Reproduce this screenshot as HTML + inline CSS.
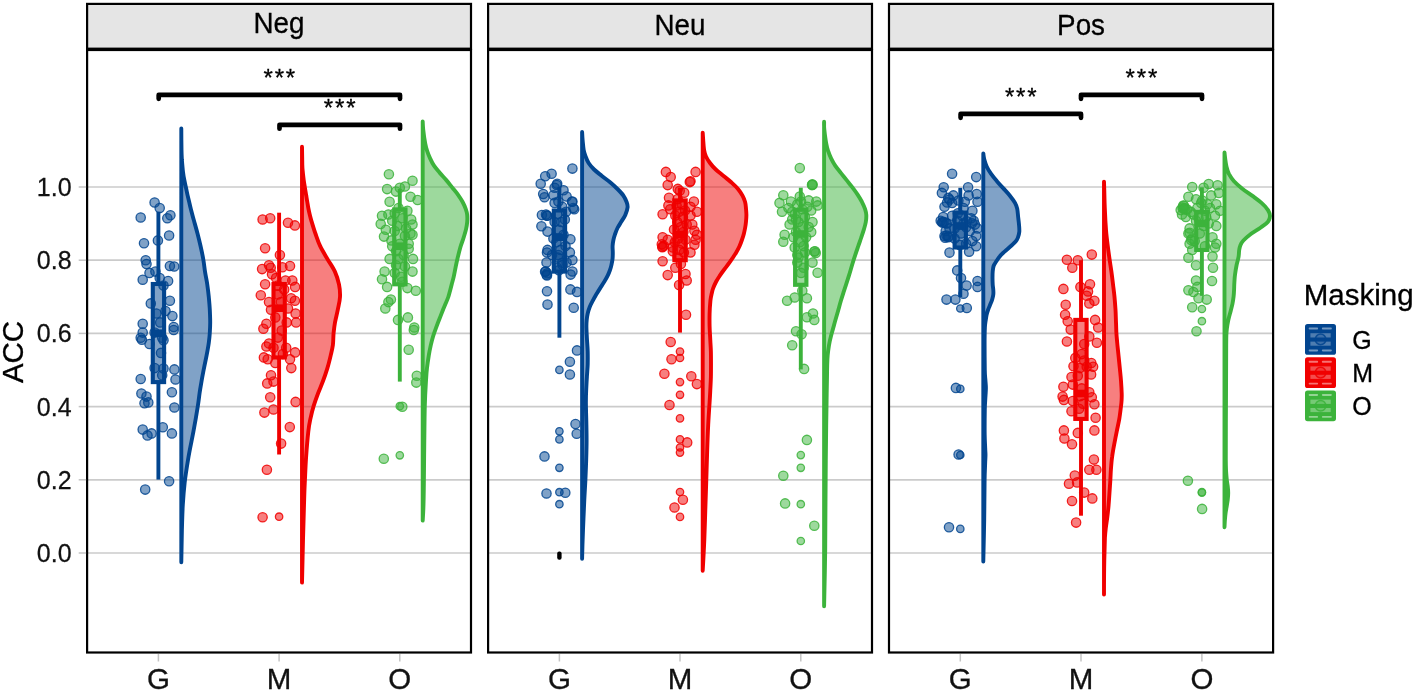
<!DOCTYPE html>
<html lang="en"><head><meta charset="utf-8"><title>ACC by Masking</title>
<style>html,body{margin:0;padding:0;background:#fff}body{width:1417px;height:691px;overflow:hidden}svg{display:block}</style>
</head><body>
<svg width="1417" height="691" viewBox="0 0 1417 691" font-family='"Liberation Sans", Arial, Helvetica, sans-serif'>
<rect width="1417" height="691" fill="#fff"/>
<g>
<line x1="87.1" x2="471" y1="553" y2="553" stroke="#cbcbcb" stroke-width="1.7"/>
<line x1="87.1" x2="471" y1="479.8" y2="479.8" stroke="#cbcbcb" stroke-width="1.7"/>
<line x1="87.1" x2="471" y1="406.6" y2="406.6" stroke="#cbcbcb" stroke-width="1.7"/>
<line x1="87.1" x2="471" y1="333.4" y2="333.4" stroke="#cbcbcb" stroke-width="1.7"/>
<line x1="87.1" x2="471" y1="260.2" y2="260.2" stroke="#cbcbcb" stroke-width="1.7"/>
<line x1="87.1" x2="471" y1="187" y2="187" stroke="#cbcbcb" stroke-width="1.7"/>
</g>
<g>
<line x1="488.1" x2="872" y1="553" y2="553" stroke="#cbcbcb" stroke-width="1.7"/>
<line x1="488.1" x2="872" y1="479.8" y2="479.8" stroke="#cbcbcb" stroke-width="1.7"/>
<line x1="488.1" x2="872" y1="406.6" y2="406.6" stroke="#cbcbcb" stroke-width="1.7"/>
<line x1="488.1" x2="872" y1="333.4" y2="333.4" stroke="#cbcbcb" stroke-width="1.7"/>
<line x1="488.1" x2="872" y1="260.2" y2="260.2" stroke="#cbcbcb" stroke-width="1.7"/>
<line x1="488.1" x2="872" y1="187" y2="187" stroke="#cbcbcb" stroke-width="1.7"/>
</g>
<g>
<line x1="889" x2="1273.1" y1="553" y2="553" stroke="#cbcbcb" stroke-width="1.7"/>
<line x1="889" x2="1273.1" y1="479.8" y2="479.8" stroke="#cbcbcb" stroke-width="1.7"/>
<line x1="889" x2="1273.1" y1="406.6" y2="406.6" stroke="#cbcbcb" stroke-width="1.7"/>
<line x1="889" x2="1273.1" y1="333.4" y2="333.4" stroke="#cbcbcb" stroke-width="1.7"/>
<line x1="889" x2="1273.1" y1="260.2" y2="260.2" stroke="#cbcbcb" stroke-width="1.7"/>
<line x1="889" x2="1273.1" y1="187" y2="187" stroke="#cbcbcb" stroke-width="1.7"/>
</g>
<g fill="#02458F" stroke="#02458F">
<g fill-opacity="0.5" stroke-opacity="0.85" stroke-width="1.3">
<circle cx="154.6" cy="202.5" r="4.65"/>
<circle cx="159.7" cy="208.1" r="4.65"/>
<circle cx="140.7" cy="217.5" r="4.65"/>
<circle cx="170.4" cy="215.2" r="4.65"/>
<circle cx="167.3" cy="218.3" r="4.65"/>
<circle cx="169.1" cy="235.5" r="4.65"/>
<circle cx="157.9" cy="240.4" r="4.65"/>
<circle cx="144" cy="243.2" r="4.65"/>
<circle cx="145.7" cy="260.2" r="4.65"/>
<circle cx="146.5" cy="264" r="4.65"/>
<circle cx="169.9" cy="266" r="4.65"/>
<circle cx="174.2" cy="266.5" r="4.65"/>
<circle cx="149.5" cy="272.9" r="4.65"/>
<circle cx="155.4" cy="271.6" r="4.65"/>
<circle cx="159.7" cy="278" r="4.65"/>
<circle cx="142.7" cy="279.8" r="4.65"/>
<circle cx="168.1" cy="281" r="4.65"/>
<circle cx="163.5" cy="285.6" r="4.65"/>
<circle cx="150.8" cy="303.4" r="4.65"/>
<circle cx="169.9" cy="300.8" r="4.65"/>
<circle cx="165.5" cy="311" r="4.65"/>
<circle cx="156.4" cy="313.5" r="4.65"/>
<circle cx="172.4" cy="316.1" r="4.65"/>
<circle cx="142.7" cy="323.7" r="4.65"/>
<circle cx="173.7" cy="327" r="4.65"/>
<circle cx="160.2" cy="322.4" r="4.65"/>
<circle cx="142.7" cy="332.6" r="4.65"/>
<circle cx="140.7" cy="337.7" r="4.65"/>
<circle cx="154.6" cy="332.6" r="4.65"/>
<circle cx="162.2" cy="337.7" r="4.65"/>
<circle cx="141.9" cy="339.7" r="4.65"/>
<circle cx="149.5" cy="344" r="4.65"/>
<circle cx="163.5" cy="340.2" r="4.65"/>
<circle cx="161" cy="352.9" r="4.65"/>
<circle cx="173.7" cy="330" r="4.65"/>
<circle cx="154.6" cy="368.1" r="4.65"/>
<circle cx="163.5" cy="368.6" r="4.65"/>
<circle cx="174.4" cy="369.4" r="4.65"/>
<circle cx="162.2" cy="375.2" r="4.65"/>
<circle cx="140.7" cy="379" r="4.65"/>
<circle cx="175.5" cy="379.5" r="4.65"/>
<circle cx="171.9" cy="392.2" r="4.65"/>
<circle cx="141.4" cy="393.5" r="4.65"/>
<circle cx="146.5" cy="396.6" r="4.65"/>
<circle cx="144.5" cy="403.2" r="4.65"/>
<circle cx="148.3" cy="402.4" r="4.65"/>
<circle cx="174.4" cy="407.5" r="4.65"/>
<circle cx="142.7" cy="429.6" r="4.65"/>
<circle cx="162.8" cy="427.3" r="4.65"/>
<circle cx="151.6" cy="433.4" r="4.65"/>
<circle cx="147.5" cy="435.4" r="4.65"/>
<circle cx="171.9" cy="433.4" r="4.65"/>
<circle cx="169.1" cy="481.2" r="4.65"/>
<circle cx="145.2" cy="489.6" r="4.65"/>
</g>
<g stroke-width="3.9" fill-opacity="0.5">
<line x1="158.4" x2="158.4" y1="211.7" y2="284"/>
<line x1="158.4" x2="158.4" y1="382.1" y2="479.6"/>
<rect x="152.8" y="284" width="11.3" height="98.1" stroke-width="4.1"/>
<line x1="152.8" x2="164.1" y1="333.2" y2="333.2" stroke-width="7.6"/>
</g>
<path d="M181.3 562.2L181.3 128.5C181.3 132.1 181.4 144.8 181.5 150C181.6 155.2 181.7 156.3 181.9 160C182.2 163.7 182.6 168.7 183 172C183.4 175.3 183.8 177.5 184.3 180C184.8 182.5 185.2 184.4 185.8 187C186.4 189.6 187 192.9 187.6 195.4C188.2 197.9 188.7 199.9 189.2 202C189.7 204.1 189.8 204.9 190.6 208C191.4 211.1 192.8 216.6 194 220.8C195.2 225.1 196.4 229.3 197.5 233.5C198.6 237.7 199.6 241.8 200.6 246.2C201.6 250.6 202.7 255.8 203.4 260C204.1 264.2 204.4 267.6 205 271.6C205.6 275.6 206.6 279.8 207.2 284C207.8 288.2 208.4 292.7 208.8 297C209.2 301.3 209.6 305.5 209.8 309.7C210 313.9 210.2 318.5 210.2 322.4C210.2 326.3 210 329.6 209.8 333C209.6 336.4 209.3 339 208.8 342.7C208.3 346.4 207.4 351.2 206.6 355.4C205.8 359.6 204.8 363.9 204 368.1C203.2 372.3 202.3 376.7 201.6 380.8C200.9 384.9 200.2 388.8 199.6 393C199 397.2 198.8 399.8 197.8 406.2C196.8 412.6 195 423.1 193.4 431.6C191.8 440.1 189.9 448.5 188.5 457C187.1 465.5 185.6 474.4 184.7 482.4C183.8 490.4 183.3 497.1 182.8 505C182.3 512.9 182.2 520.5 181.9 530C181.7 539.5 181.4 556.8 181.3 562.2Z" fill-opacity="0.5" stroke-width="3.9" stroke-linejoin="round"/>
</g>
<g fill="#F00000" stroke="#F00000">
<g fill-opacity="0.5" stroke-opacity="0.85" stroke-width="1.3">
<circle cx="262.6" cy="219.5" r="4.65"/>
<circle cx="270.2" cy="218.3" r="4.65"/>
<circle cx="288" cy="222.8" r="4.65"/>
<circle cx="294.9" cy="225.4" r="4.65"/>
<circle cx="265.1" cy="248.3" r="4.65"/>
<circle cx="279.9" cy="255.1" r="4.65"/>
<circle cx="269" cy="265.3" r="4.65"/>
<circle cx="262.1" cy="269.1" r="4.65"/>
<circle cx="270.7" cy="267.8" r="4.65"/>
<circle cx="282.4" cy="267.3" r="4.65"/>
<circle cx="290" cy="266" r="4.65"/>
<circle cx="272" cy="274.2" r="4.65"/>
<circle cx="276.1" cy="278" r="4.65"/>
<circle cx="285.5" cy="280.5" r="4.65"/>
<circle cx="292.3" cy="280.5" r="4.65"/>
<circle cx="295.1" cy="286.9" r="4.65"/>
<circle cx="265.1" cy="284.3" r="4.65"/>
<circle cx="260.8" cy="295.3" r="4.65"/>
<circle cx="269" cy="302.1" r="4.65"/>
<circle cx="277.8" cy="294.5" r="4.65"/>
<circle cx="291.1" cy="298.3" r="4.65"/>
<circle cx="294.9" cy="300.8" r="4.65"/>
<circle cx="271" cy="309.7" r="4.65"/>
<circle cx="288" cy="308.5" r="4.65"/>
<circle cx="295.6" cy="313.5" r="4.65"/>
<circle cx="266.4" cy="323.7" r="4.65"/>
<circle cx="296.1" cy="322.4" r="4.65"/>
<circle cx="263.4" cy="328.8" r="4.65"/>
<circle cx="281.7" cy="330.6" r="4.65"/>
<circle cx="269" cy="343.5" r="4.65"/>
<circle cx="277.8" cy="285.6" r="4.65"/>
<circle cx="280.9" cy="302.1" r="4.65"/>
<circle cx="284.2" cy="289.4" r="4.65"/>
<circle cx="275.3" cy="317.4" r="4.65"/>
<circle cx="286.7" cy="322.4" r="4.65"/>
<circle cx="266.4" cy="346.5" r="4.65"/>
<circle cx="273.5" cy="347.8" r="4.65"/>
<circle cx="286.2" cy="347.8" r="4.65"/>
<circle cx="295.1" cy="352.4" r="4.65"/>
<circle cx="263.9" cy="357.4" r="4.65"/>
<circle cx="267.7" cy="359.2" r="4.65"/>
<circle cx="290" cy="359.2" r="4.65"/>
<circle cx="275.3" cy="363" r="4.65"/>
<circle cx="291.3" cy="368.1" r="4.65"/>
<circle cx="271" cy="375.2" r="4.65"/>
<circle cx="267.2" cy="383.4" r="4.65"/>
<circle cx="273.5" cy="381.6" r="4.65"/>
<circle cx="270.2" cy="397.3" r="4.65"/>
<circle cx="295.6" cy="401.9" r="4.65"/>
<circle cx="273.5" cy="409.5" r="4.65"/>
<circle cx="264.4" cy="412.6" r="4.65"/>
<circle cx="289.8" cy="427.1" r="4.65"/>
<circle cx="281.1" cy="443.6" r="4.65"/>
<circle cx="266.9" cy="469.7" r="4.65"/>
<circle cx="277.8" cy="337.6" r="4.65"/>
<circle cx="282.9" cy="354.1" r="4.65"/>
<circle cx="262.6" cy="517.3" r="4.65"/>
</g>
<g stroke-width="3.9" fill-opacity="0.5">
<line x1="279.1" x2="279.1" y1="212.7" y2="284"/>
<line x1="279.1" x2="279.1" y1="357.4" y2="454.5"/>
<rect x="273.5" y="284" width="11.3" height="73.4" stroke-width="4.1"/>
<line x1="273.5" x2="284.8" y1="308.2" y2="308.2" stroke-width="7.6"/>
</g>
<g fill-opacity="0.5" stroke-opacity="0.85" stroke-width="1.3">
<circle cx="279.1" cy="516.7" r="3.7"/>
</g>
<path d="M302 582.6L302 146.8C302.1 149.8 302.2 160.8 302.3 165C302.4 169.2 302.6 169.5 302.8 172C303 174.5 303.4 177.5 303.7 180C304 182.5 304.4 184.4 304.8 187C305.2 189.6 305.8 192.9 306.2 195.4C306.6 197.9 306.9 199.9 307.3 202C307.7 204.1 307.9 206 308.3 208C308.7 210 309.1 211.9 309.6 214C310.1 216.1 310.4 217.6 311.4 220.8C312.4 224.1 313.9 229.3 315.4 233.5C316.9 237.7 318.2 242 320.2 246.2C322.2 250.4 324.9 254.7 327.4 258.9C329.8 263.1 333 267.4 334.9 271.6C336.8 275.8 338.1 280.1 339 284.3C339.9 288.5 340.2 292.8 340 297C339.8 301.2 338.6 305.5 337.8 309.7C337 313.9 335.7 318.5 335 322.4C334.3 326.3 334 329.2 333.6 333C333.2 336.8 333.4 341.3 332.9 345C332.4 348.7 331.6 351.5 330.7 355.4C329.8 359.2 328.7 363.9 327.4 368.1C326.1 372.3 324.7 376.6 323.1 380.8C321.5 385 319.6 389.3 318 393.5C316.4 397.7 314.9 402 313.6 406.2C312.3 410.4 311.3 414.7 310.4 418.9C309.5 423.1 309 425.2 308.3 431.6C307.6 438 306.7 448.5 306.1 457C305.5 465.5 305.2 474.4 304.8 482.4C304.4 490.4 304.3 495.4 304 505C303.7 514.6 303.3 527.1 303 540C302.7 552.9 302.2 575.5 302 582.6Z" fill-opacity="0.5" stroke-width="3.9" stroke-linejoin="round"/>
</g>
<g fill="#3CB33B" stroke="#3CB33B">
<g fill-opacity="0.5" stroke-opacity="0.85" stroke-width="1.3">
<circle cx="388.9" cy="174.3" r="4.65"/>
<circle cx="412.5" cy="180.7" r="4.65"/>
<circle cx="387.1" cy="189.1" r="4.65"/>
<circle cx="399.8" cy="187.8" r="4.65"/>
<circle cx="404.9" cy="186.5" r="4.65"/>
<circle cx="396" cy="191.6" r="4.65"/>
<circle cx="410.5" cy="196.7" r="4.65"/>
<circle cx="417.6" cy="200" r="4.65"/>
<circle cx="389.6" cy="201.8" r="4.65"/>
<circle cx="382" cy="215.7" r="4.65"/>
<circle cx="388.4" cy="214.5" r="4.65"/>
<circle cx="380.7" cy="223.9" r="4.65"/>
<circle cx="392.2" cy="220.8" r="4.65"/>
<circle cx="411.2" cy="219.5" r="4.65"/>
<circle cx="412.5" cy="224.6" r="4.65"/>
<circle cx="385.8" cy="229.7" r="4.65"/>
<circle cx="394.7" cy="231" r="4.65"/>
<circle cx="410.5" cy="233.5" r="4.65"/>
<circle cx="384" cy="236.6" r="4.65"/>
<circle cx="391.4" cy="240.4" r="4.65"/>
<circle cx="412.5" cy="234.8" r="4.65"/>
<circle cx="408.7" cy="248.8" r="4.65"/>
<circle cx="403.6" cy="255.1" r="4.65"/>
<circle cx="413" cy="258.9" r="4.65"/>
<circle cx="396" cy="265.3" r="4.65"/>
<circle cx="384.6" cy="271.6" r="4.65"/>
<circle cx="412.5" cy="271.6" r="4.65"/>
<circle cx="394.7" cy="272.9" r="4.65"/>
<circle cx="382" cy="279.2" r="4.65"/>
<circle cx="387.1" cy="286.9" r="4.65"/>
<circle cx="407.4" cy="288.1" r="4.65"/>
<circle cx="415.8" cy="290.7" r="4.65"/>
<circle cx="390.9" cy="299.6" r="4.65"/>
<circle cx="388.4" cy="302.1" r="4.65"/>
<circle cx="385.3" cy="308.5" r="4.65"/>
<circle cx="398" cy="319.9" r="4.65"/>
<circle cx="407.9" cy="317.4" r="4.65"/>
<circle cx="414.3" cy="327.5" r="4.65"/>
<circle cx="398.5" cy="208.1" r="4.65"/>
<circle cx="402.3" cy="218.3" r="4.65"/>
<circle cx="397.3" cy="225.9" r="4.65"/>
<circle cx="404.9" cy="236.1" r="4.65"/>
<circle cx="399.8" cy="243.7" r="4.65"/>
<circle cx="396" cy="251.3" r="4.65"/>
<circle cx="404.9" cy="266.5" r="4.65"/>
<circle cx="401.1" cy="276.7" r="4.65"/>
<circle cx="398.5" cy="258.9" r="4.65"/>
<circle cx="406.1" cy="228.4" r="4.65"/>
<circle cx="392.2" cy="246.2" r="4.65"/>
<circle cx="408.7" cy="243.7" r="4.65"/>
<circle cx="389.6" cy="258.9" r="4.65"/>
<circle cx="402.3" cy="281.8" r="4.65"/>
<circle cx="394.7" cy="213.2" r="4.65"/>
<circle cx="407.4" cy="210.7" r="4.65"/>
<circle cx="413.8" cy="330" r="4.65"/>
<circle cx="408.7" cy="349.8" r="4.65"/>
<circle cx="416.8" cy="375.7" r="4.65"/>
<circle cx="416.3" cy="382.6" r="4.65"/>
<circle cx="402.3" cy="406.7" r="4.65"/>
<circle cx="383.8" cy="458.8" r="4.65"/>
</g>
<g stroke-width="3.9" fill-opacity="0.5">
<line x1="399.8" x2="399.8" y1="189" y2="209.4"/>
<line x1="399.8" x2="399.8" y1="284.3" y2="381.6"/>
<rect x="394.2" y="209.4" width="11.3" height="74.9" stroke-width="4.1"/>
<line x1="394.2" x2="405.4" y1="246.2" y2="246.2" stroke-width="7.6"/>
</g>
<g fill-opacity="0.5" stroke-opacity="0.85" stroke-width="1.3">
<circle cx="399.8" cy="406.2" r="3.7"/>
<circle cx="399.8" cy="455.3" r="3.7"/>
</g>
<path d="M422.7 520.6L422.7 121.5C422.8 122.8 422.8 125.8 423.2 129.5C423.6 133.2 424.6 140.3 425.3 143.9C426 147.5 426.4 148.8 427.2 151.2C428 153.6 429 156 430.1 158.4C431.2 160.8 432.4 163.3 434 165.7C435.6 168.1 437.8 170.5 439.8 172.9C441.9 175.3 444.2 177.7 446.3 180.1C448.4 182.5 450.2 185 452.1 187.4C454 189.8 456.2 192.2 457.9 194.6C459.6 197 461.2 199.4 462.5 201.8C463.8 204.2 465 206.9 465.8 209.1C466.6 211.3 467 212.8 467.2 215C467.4 217.2 467.4 219.6 467.2 222C467 224.4 466.6 226.7 466 229.4C465.4 232.1 464.4 235 463.5 238C462.6 241 461.4 243.5 460.3 247.5C459.2 251.5 457.8 257.2 456.7 262C455.6 266.8 454.6 272.7 453.8 276.4C453 280.1 452.4 281.6 451.8 284C451.2 286.4 450.6 288.7 450 290.9C449.4 293.1 449.1 294.6 448.3 297C447.5 299.4 445.8 303 445 305C444.2 307 444.2 306.8 443.3 309C442.4 311.2 441 315 439.8 318C438.6 321 437.4 324.1 436.3 327.1C435.2 330.1 434.1 333 433.2 336C432.3 339 431.5 342 430.8 345.2C430.1 348.4 429.4 351.6 428.8 355.4C428.2 359.2 427.5 363.8 427 368C426.5 372.2 426.4 374.5 426 380.8C425.6 387.1 425.1 394.5 424.8 406C424.5 417.5 424.4 434.3 424.2 450C424 465.7 423.9 488.2 423.6 500C423.4 511.8 422.9 517.2 422.7 520.6Z" fill-opacity="0.5" stroke-width="3.9" stroke-linejoin="round"/>
</g>
<g fill="#02458F" stroke="#02458F">
<g fill-opacity="0.5" stroke-opacity="0.85" stroke-width="1.3">
<circle cx="572.4" cy="168.6" r="4.65"/>
<circle cx="551.6" cy="173.7" r="4.65"/>
<circle cx="545.2" cy="176.2" r="4.65"/>
<circle cx="540.7" cy="183.8" r="4.65"/>
<circle cx="557.2" cy="183.8" r="4.65"/>
<circle cx="554.6" cy="187.7" r="4.65"/>
<circle cx="563.5" cy="190.2" r="4.65"/>
<circle cx="543.2" cy="194" r="4.65"/>
<circle cx="544.5" cy="197.3" r="4.65"/>
<circle cx="553.4" cy="195.3" r="4.65"/>
<circle cx="566.6" cy="196.5" r="4.65"/>
<circle cx="572.4" cy="201.6" r="4.65"/>
<circle cx="554.6" cy="202.9" r="4.65"/>
<circle cx="574.2" cy="209.2" r="4.65"/>
<circle cx="541.9" cy="215.1" r="4.65"/>
<circle cx="547" cy="215.6" r="4.65"/>
<circle cx="566.1" cy="211.8" r="4.65"/>
<circle cx="541.4" cy="226.3" r="4.65"/>
<circle cx="547.5" cy="231.6" r="4.65"/>
<circle cx="570.4" cy="239.2" r="4.65"/>
<circle cx="547.5" cy="249.9" r="4.65"/>
<circle cx="572.4" cy="260.1" r="4.65"/>
<circle cx="546.5" cy="262.6" r="4.65"/>
<circle cx="569.9" cy="252.4" r="4.65"/>
<circle cx="545.7" cy="271.5" r="4.65"/>
<circle cx="572.4" cy="271.5" r="4.65"/>
<circle cx="558.4" cy="201.6" r="4.65"/>
<circle cx="562.2" cy="206.7" r="4.65"/>
<circle cx="557.2" cy="214.3" r="4.65"/>
<circle cx="561" cy="222" r="4.65"/>
<circle cx="558.4" cy="229.6" r="4.65"/>
<circle cx="563.5" cy="234.7" r="4.65"/>
<circle cx="556.4" cy="242.3" r="4.65"/>
<circle cx="560.5" cy="249.9" r="4.65"/>
<circle cx="557.9" cy="257.5" r="4.65"/>
<circle cx="562.5" cy="265.1" r="4.65"/>
<circle cx="558.9" cy="270.2" r="4.65"/>
<circle cx="554.6" cy="222" r="4.65"/>
<circle cx="564.8" cy="219.4" r="4.65"/>
<circle cx="553.4" cy="238.5" r="4.65"/>
<circle cx="565.5" cy="246.1" r="4.65"/>
<circle cx="552.1" cy="255" r="4.65"/>
<circle cx="566.6" cy="262.6" r="4.65"/>
<circle cx="547" cy="252.5" r="4.65"/>
<circle cx="547" cy="275.4" r="4.65"/>
<circle cx="570.6" cy="274.6" r="4.65"/>
<circle cx="547" cy="291.2" r="4.65"/>
<circle cx="570.4" cy="289.4" r="4.65"/>
<circle cx="577" cy="291.9" r="4.65"/>
<circle cx="547.5" cy="304.6" r="4.65"/>
<circle cx="573.7" cy="307.7" r="4.65"/>
<circle cx="577" cy="350.4" r="4.65"/>
<circle cx="569.9" cy="361.8" r="4.65"/>
<circle cx="569.9" cy="374.5" r="4.65"/>
<circle cx="575.5" cy="424" r="4.65"/>
<circle cx="558.4" cy="255.1" r="4.65"/>
<circle cx="562.2" cy="262.7" r="4.65"/>
<circle cx="557.2" cy="267.8" r="4.65"/>
<circle cx="576.7" cy="433.8" r="4.65"/>
<circle cx="544.5" cy="456.4" r="4.65"/>
<circle cx="565.3" cy="492.7" r="4.65"/>
<circle cx="546.5" cy="493.5" r="4.65"/>
<circle cx="546" cy="214.5" r="4.65"/>
<circle cx="547.1" cy="215.7" r="4.65"/>
<circle cx="545.1" cy="271.8" r="4.65"/>
<circle cx="547.1" cy="273.3" r="4.65"/>
<circle cx="546.6" cy="274.7" r="4.65"/>
<circle cx="572" cy="201.8" r="4.65"/>
<circle cx="573.2" cy="208.1" r="4.65"/>
<circle cx="556.7" cy="185" r="4.65"/>
</g>
<g stroke-width="3.9" fill-opacity="0.5">
<line x1="559.4" x2="559.4" y1="187" y2="210.5"/>
<line x1="559.4" x2="559.4" y1="271.6" y2="337.7"/>
<rect x="553.8" y="210.5" width="11.3" height="61.1" stroke-width="4.1"/>
<line x1="553.8" x2="565" y1="237.2" y2="237.2" stroke-width="7.6"/>
</g>
<g fill-opacity="0.5" stroke-opacity="0.85" stroke-width="1.3">
<circle cx="559.4" cy="369.9" r="3.7"/>
<circle cx="559.4" cy="431.3" r="3.7"/>
<circle cx="559.4" cy="439.4" r="3.7"/>
<circle cx="559.4" cy="467.8" r="3.7"/>
<circle cx="559.4" cy="492.2" r="3.7"/>
<circle cx="559.4" cy="504.2" r="3.7"/>
</g>
<path d="M582.1 558.8L582.1 132C582.2 133.3 582.3 137 582.6 140C582.9 143 583.2 147.2 583.7 150C584.2 152.8 584.8 154.3 585.6 156.5C586.4 158.7 587.2 160.8 588.6 163C590 165.2 591.9 167.3 594.1 169.5C596.3 171.7 599.2 173.8 601.9 176C604.6 178.2 607.8 180.3 610.4 182.5C613 184.7 615.3 186.8 617.5 189C619.7 191.2 621.9 193.4 623.4 195.6C624.9 197.8 625.9 200.1 626.6 202C627.3 203.9 627.8 205.1 627.6 207.3C627.4 209.5 626.3 212.6 625.3 215C624.3 217.4 622.7 219.4 621.4 221.6C620.1 223.8 618.6 225.8 617.5 228C616.4 230.2 615.6 232.6 614.9 234.6C614.2 236.6 613.8 238.1 613.4 240C613 241.9 612.7 243.9 612.6 246C612.5 248.1 612.8 250.3 612.8 252.4C612.8 254.5 612.8 256.4 612.6 258.5C612.4 260.6 611.8 263.2 611.4 265.1C611 267 610.6 268.3 610 270C609.4 271.7 608.7 273.5 607.8 275.4C606.9 277.3 605.7 279.4 604.4 281.5C603.1 283.6 601.6 285.9 600.2 288.1C598.8 290.3 597.5 292.4 596.2 294.5C595 296.6 593.8 298.7 592.7 300.8C591.6 302.9 590.5 304.9 589.7 307C588.9 309.1 588.2 311.3 587.7 313.5C587.2 315.7 586.9 317.9 586.7 320C586.5 322.1 586.4 323.2 586.4 326.2C586.4 329.2 586.7 333.8 586.9 338C587.1 342.2 587.6 347.2 587.7 351.6C587.8 356 587.8 360.1 587.7 364.3C587.6 368.5 587.1 372.7 586.9 377C586.6 381.3 586.4 385.8 586.2 390C586 394.2 585.9 396.6 585.9 402.4C585.9 408.2 586.3 418.7 586.4 425C586.5 431.3 586.6 434.2 586.6 440C586.6 445.8 586.4 453.3 586.2 460C586 466.7 585.7 473.3 585.4 480C585.1 486.7 584.7 491.7 584.3 500C583.9 508.3 583.4 520.2 583 530C582.6 539.8 582.2 554 582.1 558.8Z" fill-opacity="0.5" stroke-width="3.9" stroke-linejoin="round"/>
</g>
<g fill="#F00000" stroke="#F00000">
<g fill-opacity="0.5" stroke-opacity="0.85" stroke-width="1.3">
<circle cx="665.9" cy="171.9" r="4.65"/>
<circle cx="695.6" cy="171.9" r="4.65"/>
<circle cx="670.7" cy="177" r="4.65"/>
<circle cx="690.5" cy="181.3" r="4.65"/>
<circle cx="667.7" cy="185.1" r="4.65"/>
<circle cx="677.8" cy="188.9" r="4.65"/>
<circle cx="684.2" cy="192.7" r="4.65"/>
<circle cx="669" cy="197.8" r="4.65"/>
<circle cx="693.9" cy="201.6" r="4.65"/>
<circle cx="668.4" cy="205.4" r="4.65"/>
<circle cx="676.6" cy="205.4" r="4.65"/>
<circle cx="690.5" cy="206.7" r="4.65"/>
<circle cx="696.9" cy="211.8" r="4.65"/>
<circle cx="662.6" cy="214.3" r="4.65"/>
<circle cx="670.2" cy="209.2" r="4.65"/>
<circle cx="690.5" cy="215.6" r="4.65"/>
<circle cx="692.3" cy="224.5" r="4.65"/>
<circle cx="686.7" cy="224.5" r="4.65"/>
<circle cx="694.4" cy="230.8" r="4.65"/>
<circle cx="696.9" cy="234.7" r="4.65"/>
<circle cx="662.6" cy="237.2" r="4.65"/>
<circle cx="667.7" cy="239.7" r="4.65"/>
<circle cx="695.6" cy="239.7" r="4.65"/>
<circle cx="662.6" cy="246.8" r="4.65"/>
<circle cx="672.8" cy="247.4" r="4.65"/>
<circle cx="694.4" cy="244.8" r="4.65"/>
<circle cx="690.5" cy="252.4" r="4.65"/>
<circle cx="662.6" cy="261.3" r="4.65"/>
<circle cx="667.7" cy="275.1" r="4.65"/>
<circle cx="685.5" cy="274" r="4.65"/>
<circle cx="677.8" cy="199.1" r="4.65"/>
<circle cx="681.7" cy="204.2" r="4.65"/>
<circle cx="679.1" cy="211.8" r="4.65"/>
<circle cx="682.9" cy="216.9" r="4.65"/>
<circle cx="677.3" cy="222" r="4.65"/>
<circle cx="680.9" cy="227" r="4.65"/>
<circle cx="683.4" cy="232.1" r="4.65"/>
<circle cx="678.4" cy="238.5" r="4.65"/>
<circle cx="681.9" cy="243.5" r="4.65"/>
<circle cx="679.4" cy="249.9" r="4.65"/>
<circle cx="675.3" cy="215.6" r="4.65"/>
<circle cx="685" cy="210.5" r="4.65"/>
<circle cx="674" cy="229.6" r="4.65"/>
<circle cx="685.5" cy="239.7" r="4.65"/>
<circle cx="674.8" cy="242.3" r="4.65"/>
<circle cx="683.9" cy="252.4" r="4.65"/>
<circle cx="677.8" cy="257.5" r="4.65"/>
<circle cx="680.9" cy="263.9" r="4.65"/>
<circle cx="675.3" cy="267.7" r="4.65"/>
<circle cx="686.7" cy="280.5" r="4.65"/>
<circle cx="679.1" cy="285.1" r="4.65"/>
<circle cx="686" cy="314.8" r="4.65"/>
<circle cx="670.7" cy="342" r="4.65"/>
<circle cx="671.5" cy="359.2" r="4.65"/>
<circle cx="664.4" cy="373.7" r="4.65"/>
<circle cx="691.3" cy="376.3" r="4.65"/>
<circle cx="696.9" cy="384.1" r="4.65"/>
<circle cx="669.5" cy="405" r="4.65"/>
<circle cx="672.8" cy="251.3" r="4.65"/>
<circle cx="687.2" cy="442.4" r="4.65"/>
<circle cx="682.9" cy="499.8" r="4.65"/>
<circle cx="674.5" cy="507.5" r="4.65"/>
<circle cx="661.8" cy="244.3" r="4.65"/>
<circle cx="663.8" cy="245.8" r="4.65"/>
<circle cx="662.3" cy="247.2" r="4.65"/>
<circle cx="679.7" cy="190.8" r="4.65"/>
<circle cx="689.8" cy="182.1" r="4.65"/>
</g>
<g stroke-width="3.9" fill-opacity="0.5">
<line x1="680" x2="680" y1="187.7" y2="200.4"/>
<line x1="680" x2="680" y1="260.2" y2="332.6"/>
<rect x="674.4" y="200.4" width="11.3" height="59.8" stroke-width="4.1"/>
<line x1="674.4" x2="685.6" y1="234.7" y2="234.7" stroke-width="7.6"/>
</g>
<g fill-opacity="0.5" stroke-opacity="0.85" stroke-width="1.3">
<circle cx="680" cy="351.6" r="3.7"/>
<circle cx="680" cy="358" r="3.7"/>
<circle cx="680" cy="382.1" r="3.7"/>
<circle cx="680" cy="394.8" r="3.7"/>
<circle cx="680" cy="418.4" r="3.7"/>
<circle cx="680" cy="439.4" r="3.7"/>
<circle cx="680" cy="447.5" r="3.7"/>
<circle cx="680" cy="452.6" r="3.7"/>
<circle cx="680" cy="492" r="3.7"/>
<circle cx="680" cy="516.9" r="3.7"/>
</g>
<path d="M702.7 570.7L702.7 132.7C702.8 133.9 703 137.1 703.2 140C703.4 142.9 703.6 147.2 704.1 150C704.6 152.8 705 154.3 706 156.5C707 158.7 708.4 160.8 710 163C711.6 165.2 713.5 167.3 715.8 169.5C718.1 171.7 721 173.8 723.6 176C726.2 178.2 729.1 180.3 731.5 182.5C733.9 184.7 736.2 186.8 738 189C739.8 191.2 741.3 193.4 742.5 195.6C743.7 197.8 744.5 199.8 745.1 202C745.7 204.2 745.8 206.4 746 208.6C746.2 210.8 746.4 212.8 746.4 215C746.4 217.2 746.2 219.4 746 221.6C745.8 223.8 745.5 225.9 745.1 228C744.7 230.1 744.3 232 743.8 234C743.3 236 742.6 238 741.9 240C741.2 242 740.5 243.9 739.6 246C738.7 248.1 737.4 250.4 736.2 252.4C735 254.4 733.7 256.3 732.6 258C731.5 259.7 730.7 260.9 729.4 262.7C728.1 264.5 726.2 266.9 724.6 269C723 271.1 721.4 273.3 720 275.4C718.6 277.5 717.3 279.4 716.2 281.5C715.1 283.6 714 286 713.2 288.1C712.4 290.2 712.1 291.9 711.6 294C711.1 296.1 710.7 297.6 710.4 300.8C710.1 304.1 709.7 309.3 709.6 313.5C709.5 317.7 709.5 321.8 709.6 326.2C709.7 330.6 710.1 335.8 710.3 340C710.5 344.2 710.8 347.6 710.9 351.6C711 355.6 711 359.8 711 364C711 368.2 711 372.7 710.9 377C710.8 381.3 710.5 385.8 710.3 390C710.1 394.2 710 396.6 709.6 402.4C709.2 408.2 708.6 417.1 708.2 425C707.8 432.9 707.5 440.8 707.2 450C706.9 459.2 706.6 470 706.3 480C706 490 705.6 500 705.3 510C705 520 704.7 529.9 704.3 540C703.9 550.1 703 565.6 702.7 570.7Z" fill-opacity="0.5" stroke-width="3.9" stroke-linejoin="round"/>
</g>
<g fill="#3CB33B" stroke="#3CB33B">
<g fill-opacity="0.5" stroke-opacity="0.85" stroke-width="1.3">
<circle cx="799.8" cy="168.1" r="4.65"/>
<circle cx="812" cy="185.1" r="4.65"/>
<circle cx="783.3" cy="195.3" r="4.65"/>
<circle cx="779.5" cy="202.9" r="4.65"/>
<circle cx="790.9" cy="201.6" r="4.65"/>
<circle cx="799.8" cy="196.5" r="4.65"/>
<circle cx="808.7" cy="200.4" r="4.65"/>
<circle cx="816.3" cy="201.6" r="4.65"/>
<circle cx="817.6" cy="205.4" r="4.65"/>
<circle cx="782" cy="211.8" r="4.65"/>
<circle cx="788.4" cy="208" r="4.65"/>
<circle cx="811.2" cy="210.5" r="4.65"/>
<circle cx="792.2" cy="219.4" r="4.65"/>
<circle cx="789.6" cy="224.5" r="4.65"/>
<circle cx="812.5" cy="222" r="4.65"/>
<circle cx="784.6" cy="234.7" r="4.65"/>
<circle cx="811.2" cy="232.1" r="4.65"/>
<circle cx="783.3" cy="241.8" r="4.65"/>
<circle cx="803.6" cy="246.1" r="4.65"/>
<circle cx="815" cy="251.2" r="4.65"/>
<circle cx="797.3" cy="262.6" r="4.65"/>
<circle cx="812.5" cy="262.6" r="4.65"/>
<circle cx="803.6" cy="267.7" r="4.65"/>
<circle cx="817.6" cy="272.8" r="4.65"/>
<circle cx="797.3" cy="204.2" r="4.65"/>
<circle cx="802.3" cy="209.2" r="4.65"/>
<circle cx="794.7" cy="214.3" r="4.65"/>
<circle cx="804.9" cy="216.9" r="4.65"/>
<circle cx="798.5" cy="222" r="4.65"/>
<circle cx="802.3" cy="227" r="4.65"/>
<circle cx="796" cy="232.1" r="4.65"/>
<circle cx="806.1" cy="237.2" r="4.65"/>
<circle cx="799.8" cy="242.3" r="4.65"/>
<circle cx="794.7" cy="247.4" r="4.65"/>
<circle cx="804.9" cy="252.4" r="4.65"/>
<circle cx="798.5" cy="257.5" r="4.65"/>
<circle cx="807.4" cy="206.7" r="4.65"/>
<circle cx="792.2" cy="211.8" r="4.65"/>
<circle cx="808.7" cy="227" r="4.65"/>
<circle cx="793.4" cy="237.2" r="4.65"/>
<circle cx="801.1" cy="201.6" r="4.65"/>
<circle cx="796" cy="219.4" r="4.65"/>
<circle cx="787.1" cy="300.8" r="4.65"/>
<circle cx="794.7" cy="297.5" r="4.65"/>
<circle cx="806.9" cy="298.3" r="4.65"/>
<circle cx="802.3" cy="290.7" r="4.65"/>
<circle cx="813" cy="313.5" r="4.65"/>
<circle cx="806.9" cy="317.3" r="4.65"/>
<circle cx="814.3" cy="319.9" r="4.65"/>
<circle cx="796" cy="331.3" r="4.65"/>
<circle cx="801.6" cy="334.3" r="4.65"/>
<circle cx="792.2" cy="345.3" r="4.65"/>
<circle cx="804.1" cy="368.9" r="4.65"/>
<circle cx="797.3" cy="255.1" r="4.65"/>
<circle cx="801.1" cy="272.9" r="4.65"/>
<circle cx="806.9" cy="439.9" r="4.65"/>
<circle cx="783.3" cy="475.7" r="4.65"/>
<circle cx="785.1" cy="503.4" r="4.65"/>
<circle cx="814.3" cy="525.8" r="4.65"/>
<circle cx="812.3" cy="184.4" r="4.65"/>
<circle cx="812.6" cy="184.7" r="4.65"/>
<circle cx="814.3" cy="251.6" r="4.65"/>
<circle cx="815.7" cy="253" r="4.65"/>
</g>
<g stroke-width="3.9" fill-opacity="0.5">
<line x1="800.8" x2="800.8" y1="187.7" y2="209.8"/>
<line x1="800.8" x2="800.8" y1="284.8" y2="369.4"/>
<rect x="795.1" y="209.8" width="11.3" height="75" stroke-width="4.1"/>
<line x1="795.1" x2="806.4" y1="234" y2="234" stroke-width="7.6"/>
</g>
<g fill-opacity="0.5" stroke-opacity="0.85" stroke-width="1.3">
<circle cx="800.8" cy="455.1" r="3.7"/>
<circle cx="800.8" cy="467.8" r="3.7"/>
<circle cx="800.8" cy="504.2" r="3.7"/>
<circle cx="800.8" cy="541" r="3.7"/>
</g>
<path d="M824.1 606.2L824.1 121.8C824.1 123.1 823.9 125.8 824.3 129.5C824.7 133.2 825.6 140.3 826.3 143.9C826.9 147.5 827.4 148.8 828.2 151.2C829 153.6 829.9 156 831.1 158.4C832.3 160.8 833.6 163.3 835.2 165.7C836.8 168.1 838.9 170.5 840.8 172.9C842.7 175.3 844.7 177.7 846.6 180.1C848.5 182.5 850.6 185 852.4 187.4C854.2 189.8 856 192.2 857.6 194.6C859.2 197 860.6 199.4 861.9 201.8C863.1 204.2 864.4 206.9 865.1 209.1C865.8 211.3 866.2 212.8 866.3 215C866.4 217.2 866.2 219.6 865.8 222C865.4 224.4 864.7 226.7 863.9 229.4C863.1 232.1 862.1 235 861.1 238C860.1 241 859.1 243.5 857.8 247.5C856.4 251.5 854.5 257.2 853 262C851.5 266.8 850.2 271.6 848.7 276.4C847.2 281.2 845.3 286.8 844 290.9C842.7 295 841.8 297.8 840.9 300.8C840 303.8 839.4 306.1 838.6 309C837.8 311.9 836.9 315 836 318C835.1 321 834.3 324.1 833.5 327.1C832.7 330.1 831.8 333 831 336C830.2 339 829.5 342 829 345.2C828.5 348.4 828 351.7 827.7 355C827.4 358.3 827.3 361.3 827.2 365C827.1 368.7 827.1 371.2 827 377C826.9 382.8 826.7 392 826.6 400C826.5 408 826.3 415 826.2 425C826.1 435 825.9 447.5 825.8 460C825.7 472.5 825.6 485 825.5 500C825.4 515 825.4 532.3 825.2 550C825 567.7 824.3 596.8 824.1 606.2Z" fill-opacity="0.5" stroke-width="3.9" stroke-linejoin="round"/>
</g>
<g fill="#02458F" stroke="#02458F">
<g fill-opacity="0.5" stroke-opacity="0.85" stroke-width="1.3">
<circle cx="952.1" cy="173.8" r="4.65"/>
<circle cx="976.2" cy="177.1" r="4.65"/>
<circle cx="943.7" cy="187.3" r="4.65"/>
<circle cx="968.1" cy="187.3" r="4.65"/>
<circle cx="941.9" cy="192.9" r="4.65"/>
<circle cx="948.3" cy="197.9" r="4.65"/>
<circle cx="968.6" cy="195.4" r="4.65"/>
<circle cx="976.7" cy="194.1" r="4.65"/>
<circle cx="977.5" cy="201.8" r="4.65"/>
<circle cx="944.5" cy="206.8" r="4.65"/>
<circle cx="952.1" cy="203" r="4.65"/>
<circle cx="963.5" cy="208.1" r="4.65"/>
<circle cx="972.4" cy="210.7" r="4.65"/>
<circle cx="942.7" cy="222.1" r="4.65"/>
<circle cx="947" cy="223.4" r="4.65"/>
<circle cx="973.7" cy="220.8" r="4.65"/>
<circle cx="977.5" cy="228.4" r="4.65"/>
<circle cx="966.1" cy="227.2" r="4.65"/>
<circle cx="954.6" cy="228.4" r="4.65"/>
<circle cx="944.5" cy="236.1" r="4.65"/>
<circle cx="948.3" cy="237.3" r="4.65"/>
<circle cx="976.2" cy="236.1" r="4.65"/>
<circle cx="972.4" cy="241.1" r="4.65"/>
<circle cx="966.1" cy="243.7" r="4.65"/>
<circle cx="959.7" cy="244.9" r="4.65"/>
<circle cx="949.5" cy="252.6" r="4.65"/>
<circle cx="969.1" cy="251.8" r="4.65"/>
<circle cx="976.2" cy="246.2" r="4.65"/>
<circle cx="957.2" cy="270.4" r="4.65"/>
<circle cx="961" cy="278" r="4.65"/>
<circle cx="977.5" cy="281" r="4.65"/>
<circle cx="966.6" cy="285.6" r="4.65"/>
<circle cx="977.5" cy="286.9" r="4.65"/>
<circle cx="963.5" cy="293.7" r="4.65"/>
<circle cx="946.5" cy="299.6" r="4.65"/>
<circle cx="955.4" cy="299.6" r="4.65"/>
<circle cx="966.8" cy="308" r="4.65"/>
<circle cx="958.4" cy="200.5" r="4.65"/>
<circle cx="962.2" cy="215.7" r="4.65"/>
<circle cx="957.2" cy="220.8" r="4.65"/>
<circle cx="961" cy="233.5" r="4.65"/>
<circle cx="957.9" cy="213.2" r="4.65"/>
<circle cx="963.5" cy="223.4" r="4.65"/>
<circle cx="954.6" cy="238.6" r="4.65"/>
<circle cx="952.1" cy="215.7" r="4.65"/>
<circle cx="969.9" cy="231" r="4.65"/>
<circle cx="949.5" cy="228.4" r="4.65"/>
<circle cx="971.1" cy="218.3" r="4.65"/>
<circle cx="940.7" cy="220.8" r="4.65"/>
<circle cx="943.2" cy="217" r="4.65"/>
<circle cx="945.7" cy="231" r="4.65"/>
<circle cx="974.9" cy="224.6" r="4.65"/>
<circle cx="953.4" cy="195.4" r="4.65"/>
<circle cx="964.8" cy="201.8" r="4.65"/>
<circle cx="955.9" cy="387.9" r="4.65"/>
<circle cx="949" cy="527.2" r="4.65"/>
<circle cx="958.6" cy="454.5" r="4.65"/>
<circle cx="942.2" cy="222.6" r="4.65"/>
<circle cx="946" cy="223.2" r="4.65"/>
<circle cx="946.6" cy="235.6" r="4.65"/>
<circle cx="945.1" cy="237.7" r="4.65"/>
<circle cx="949.5" cy="199.5" r="4.65"/>
<circle cx="947.1" cy="202.4" r="4.65"/>
<circle cx="966.8" cy="221.2" r="4.65"/>
<circle cx="972" cy="223.2" r="4.65"/>
<circle cx="944.3" cy="222" r="4.65"/>
<circle cx="948.3" cy="236.5" r="4.65"/>
</g>
<g stroke-width="3.9" fill-opacity="0.5">
<line x1="960.3" x2="960.3" y1="187.8" y2="212.6"/>
<line x1="960.3" x2="960.3" y1="247.5" y2="297"/>
<rect x="954.6" y="212.6" width="11.3" height="34.9" stroke-width="4.1"/>
<line x1="954.6" x2="965.9" y1="226" y2="226" stroke-width="7.6"/>
</g>
<g fill-opacity="0.5" stroke-opacity="0.85" stroke-width="1.3">
<circle cx="960.3" cy="308.5" r="3.7"/>
<circle cx="960.3" cy="388.9" r="3.7"/>
<circle cx="960.3" cy="455" r="3.7"/>
<circle cx="960.3" cy="528.9" r="3.7"/>
</g>
<path d="M983.3 561.5L983.3 153.5C983.5 154.5 983.7 157.3 984.3 159.5C984.9 161.7 985.7 164.3 986.8 166.7C987.9 169.1 989.4 171.5 991.1 173.9C992.8 176.3 994.9 178.8 996.9 181.2C998.9 183.6 1001.2 186 1003.4 188.4C1005.6 190.8 1008 193.3 1009.9 195.7C1011.8 198.1 1013.8 200.7 1015 202.9C1016.2 205.1 1016.7 206.3 1017.2 208.7C1017.7 211.1 1017.9 214.8 1018.2 217.4C1018.5 220.1 1018.8 222.2 1019 224.6C1019.2 227 1019.5 229.6 1019.3 231.8C1019.1 234 1018.5 236 1017.9 237.6C1017.3 239.2 1016.6 240.3 1015.6 241.5C1014.6 242.7 1013.4 243.8 1012.1 245C1010.8 246.2 1009.1 247.7 1007.6 249C1006.1 250.3 1004.4 251.7 1003 253C1001.6 254.3 1000.4 255.6 999.3 257C998.2 258.4 997.2 260 996.2 261.5C995.2 263 994.2 264.3 993.6 266C993 267.7 992.9 269.6 992.7 271.6C992.5 273.6 992.5 275.9 992.5 278C992.5 280.1 992.6 282.3 992.7 284.3C992.8 286.3 993.2 288.3 993.3 290C993.4 291.7 993.5 292.9 993.3 294.5C993.1 296.1 992.7 297.8 992.2 299.5C991.7 301.2 990.9 302.9 990.2 304.6C989.5 306.3 988.8 307.8 988.2 309.5C987.6 311.2 987 312.9 986.6 314.8C986.2 316.7 985.9 318.9 985.6 321C985.3 323.1 985.1 323.5 984.9 327.5C984.7 331.5 984.6 337.9 984.6 345C984.6 352.1 984.7 364.2 984.8 370C984.9 375.8 985.2 377 985.4 380C985.6 383 985.9 385.3 985.9 388C985.9 390.7 985.7 392.3 985.5 396C985.3 399.7 984.9 403.5 984.8 410C984.7 416.5 984.6 428.7 984.7 435C984.8 441.3 985.1 444.7 985.2 448C985.3 451.3 985.5 452.7 985.5 455C985.5 457.3 985.4 457.8 985.2 462C985.1 466.2 984.8 470.3 984.6 480C984.4 489.7 984.4 506.4 984.2 520C984 533.6 983.4 554.6 983.3 561.5Z" fill-opacity="0.5" stroke-width="3.9" stroke-linejoin="round"/>
</g>
<g fill="#F00000" stroke="#F00000">
<g fill-opacity="0.5" stroke-opacity="0.85" stroke-width="1.3">
<circle cx="1091.8" cy="254.6" r="4.65"/>
<circle cx="1066.9" cy="259.7" r="4.65"/>
<circle cx="1077.8" cy="260.2" r="4.65"/>
<circle cx="1072.3" cy="267.8" r="4.65"/>
<circle cx="1090" cy="284.3" r="4.65"/>
<circle cx="1080.4" cy="286.9" r="4.65"/>
<circle cx="1063.4" cy="288.9" r="4.65"/>
<circle cx="1088" cy="291.4" r="4.65"/>
<circle cx="1086.7" cy="295.8" r="4.65"/>
<circle cx="1094.4" cy="300.8" r="4.65"/>
<circle cx="1089.3" cy="303.4" r="4.65"/>
<circle cx="1065.7" cy="304.7" r="4.65"/>
<circle cx="1065.1" cy="314.8" r="4.65"/>
<circle cx="1067.7" cy="321.2" r="4.65"/>
<circle cx="1095.1" cy="319.9" r="4.65"/>
<circle cx="1070.7" cy="329.6" r="4.65"/>
<circle cx="1098.2" cy="327.5" r="4.65"/>
<circle cx="1089.3" cy="336.4" r="4.65"/>
<circle cx="1066.9" cy="341.5" r="4.65"/>
<circle cx="1096.9" cy="342.8" r="4.65"/>
<circle cx="1084.2" cy="344" r="4.65"/>
<circle cx="1081.7" cy="354.1" r="4.65"/>
<circle cx="1075.3" cy="357.9" r="4.65"/>
<circle cx="1091.3" cy="363" r="4.65"/>
<circle cx="1073.5" cy="366.3" r="4.65"/>
<circle cx="1086.7" cy="366.8" r="4.65"/>
<circle cx="1093.1" cy="366.8" r="4.65"/>
<circle cx="1091.1" cy="374.5" r="4.65"/>
<circle cx="1071.5" cy="377" r="4.65"/>
<circle cx="1063.4" cy="386.7" r="4.65"/>
<circle cx="1072.8" cy="384.6" r="4.65"/>
<circle cx="1089.3" cy="392.2" r="4.65"/>
<circle cx="1062.6" cy="396.6" r="4.65"/>
<circle cx="1063.9" cy="399.9" r="4.65"/>
<circle cx="1091.8" cy="397.3" r="4.65"/>
<circle cx="1094.4" cy="404.2" r="4.65"/>
<circle cx="1072.8" cy="401.1" r="4.65"/>
<circle cx="1071.5" cy="411.3" r="4.65"/>
<circle cx="1095.6" cy="417.7" r="4.65"/>
<circle cx="1063.9" cy="430.4" r="4.65"/>
<circle cx="1077.8" cy="432.9" r="4.65"/>
<circle cx="1094.4" cy="430.4" r="4.65"/>
<circle cx="1064.4" cy="438.5" r="4.65"/>
<circle cx="1072" cy="444.3" r="4.65"/>
<circle cx="1093.9" cy="459.6" r="4.65"/>
<circle cx="1089.3" cy="469.7" r="4.65"/>
<circle cx="1096.4" cy="469.7" r="4.65"/>
<circle cx="1074.8" cy="475.6" r="4.65"/>
<circle cx="1069" cy="483.7" r="4.65"/>
<circle cx="1077.1" cy="482.4" r="4.65"/>
<circle cx="1084.2" cy="492.6" r="4.65"/>
<circle cx="1092.3" cy="498.4" r="4.65"/>
<circle cx="1072" cy="501" r="4.65"/>
<circle cx="1080.4" cy="396.1" r="4.65"/>
<circle cx="1082.9" cy="403.7" r="4.65"/>
<circle cx="1079.1" cy="408.8" r="4.65"/>
<circle cx="1081.7" cy="388.4" r="4.65"/>
<circle cx="1077.8" cy="375.7" r="4.65"/>
<circle cx="1084.2" cy="360.5" r="4.65"/>
<circle cx="1079.9" cy="368.1" r="4.65"/>
<circle cx="1076.1" cy="522.6" r="4.65"/>
</g>
<g stroke-width="3.9" fill-opacity="0.5">
<line x1="1081" x2="1081" y1="260.2" y2="319.9"/>
<line x1="1081" x2="1081" y1="418.9" y2="515.7"/>
<rect x="1075.3" y="319.9" width="11.3" height="99" stroke-width="4.1"/>
<line x1="1075.3" x2="1086.7" y1="393.5" y2="393.5" stroke-width="7.6"/>
</g>
<path d="M1104 594.5L1104 181.6C1104.1 183.8 1104.3 190.6 1104.4 195C1104.5 199.4 1104.6 203.7 1104.8 208C1105 212.3 1105.2 216.6 1105.4 220.8C1105.7 225.1 1105.9 229.3 1106.3 233.5C1106.7 237.7 1107.3 242 1107.8 246.2C1108.3 250.4 1108.9 254.7 1109.5 258.9C1110.1 263.1 1110.8 267.4 1111.4 271.6C1112 275.8 1112.5 280.1 1113 284.3C1113.5 288.5 1114.1 292.8 1114.5 297C1114.9 301.2 1115.2 305.5 1115.5 309.7C1115.8 313.9 1115.8 318.5 1116 322.4C1116.2 326.3 1116.2 329.6 1116.4 333C1116.6 336.4 1116.9 339 1117.2 342.7C1117.5 346.4 1118.1 351.2 1118.5 355.4C1118.9 359.6 1119.4 363.9 1119.8 368.1C1120.2 372.3 1120.7 376.6 1121 380.8C1121.3 385 1121.6 390.3 1121.7 393.5C1121.8 396.7 1121.7 397.9 1121.6 400C1121.5 402.1 1121.4 403.1 1121 406.2C1120.6 409.3 1120 414.7 1119.3 418.9C1118.6 423.1 1117.5 427.4 1116.7 431.6C1115.9 435.8 1115 440.1 1114.2 444.3C1113.4 448.5 1112.6 452.8 1112.1 457C1111.5 461.2 1111.2 465.5 1110.9 469.7C1110.6 473.9 1110.6 476.5 1110.2 482.4C1109.8 488.3 1109.1 499.1 1108.6 505C1108.1 510.9 1107.7 514.2 1107.2 518C1106.7 521.8 1106.2 524.7 1105.8 528C1105.4 531.3 1105.2 532.7 1104.9 538C1104.7 543.3 1104.5 550.6 1104.3 560C1104.1 569.4 1104 588.8 1104 594.5Z" fill-opacity="0.5" stroke-width="3.9" stroke-linejoin="round"/>
</g>
<g fill="#3CB33B" stroke="#3CB33B">
<g fill-opacity="0.5" stroke-opacity="0.85" stroke-width="1.3">
<circle cx="1192.2" cy="187" r="4.65"/>
<circle cx="1208.7" cy="184" r="4.65"/>
<circle cx="1217.6" cy="185.2" r="4.65"/>
<circle cx="1203.6" cy="187.8" r="4.65"/>
<circle cx="1188.4" cy="196.7" r="4.65"/>
<circle cx="1211.2" cy="195.4" r="4.65"/>
<circle cx="1218.9" cy="192.9" r="4.65"/>
<circle cx="1196" cy="199.2" r="4.65"/>
<circle cx="1216.3" cy="204.3" r="4.65"/>
<circle cx="1184.6" cy="208.1" r="4.65"/>
<circle cx="1180.7" cy="210.1" r="4.65"/>
<circle cx="1190.9" cy="211.9" r="4.65"/>
<circle cx="1185.8" cy="217" r="4.65"/>
<circle cx="1215" cy="215.7" r="4.65"/>
<circle cx="1220.1" cy="210.7" r="4.65"/>
<circle cx="1189.6" cy="228.4" r="4.65"/>
<circle cx="1216.3" cy="225.9" r="4.65"/>
<circle cx="1208.7" cy="223.4" r="4.65"/>
<circle cx="1188.4" cy="233.5" r="4.65"/>
<circle cx="1192.2" cy="238.6" r="4.65"/>
<circle cx="1212.5" cy="237.3" r="4.65"/>
<circle cx="1216.3" cy="243.7" r="4.65"/>
<circle cx="1189.6" cy="243.7" r="4.65"/>
<circle cx="1192.2" cy="250" r="4.65"/>
<circle cx="1215" cy="247.5" r="4.65"/>
<circle cx="1188.4" cy="257.7" r="4.65"/>
<circle cx="1212.5" cy="256.4" r="4.65"/>
<circle cx="1196" cy="265.3" r="4.65"/>
<circle cx="1213" cy="267.8" r="4.65"/>
<circle cx="1196" cy="280.5" r="4.65"/>
<circle cx="1212" cy="281" r="4.65"/>
<circle cx="1188.4" cy="290.2" r="4.65"/>
<circle cx="1193.4" cy="292" r="4.65"/>
<circle cx="1197.3" cy="286.9" r="4.65"/>
<circle cx="1206.7" cy="299.6" r="4.65"/>
<circle cx="1198.5" cy="298.3" r="4.65"/>
<circle cx="1192.2" cy="307.2" r="4.65"/>
<circle cx="1196.5" cy="331.3" r="4.65"/>
<circle cx="1183.3" cy="205.6" r="4.65"/>
<circle cx="1187.1" cy="209.4" r="4.65"/>
<circle cx="1182" cy="214.5" r="4.65"/>
<circle cx="1201.1" cy="203" r="4.65"/>
<circle cx="1204.9" cy="210.7" r="4.65"/>
<circle cx="1198.5" cy="218.3" r="4.65"/>
<circle cx="1203.6" cy="225.9" r="4.65"/>
<circle cx="1199.8" cy="233.5" r="4.65"/>
<circle cx="1196" cy="220.8" r="4.65"/>
<circle cx="1206.1" cy="217" r="4.65"/>
<circle cx="1197.3" cy="208.1" r="4.65"/>
<circle cx="1207.4" cy="204.3" r="4.65"/>
<circle cx="1194.7" cy="241.1" r="4.65"/>
<circle cx="1204.9" cy="246.2" r="4.65"/>
<circle cx="1202.3" cy="200.5" r="4.65"/>
<circle cx="1210" cy="208.1" r="4.65"/>
<circle cx="1193.4" cy="214.5" r="4.65"/>
<circle cx="1187.9" cy="480.7" r="4.65"/>
<circle cx="1202.1" cy="508.9" r="4.65"/>
<circle cx="1182.5" cy="207.6" r="4.65"/>
<circle cx="1185.4" cy="209.6" r="4.65"/>
<circle cx="1183.9" cy="205.8" r="4.65"/>
<circle cx="1189.7" cy="232.7" r="4.65"/>
<circle cx="1191.1" cy="240" r="4.65"/>
<circle cx="1183.3" cy="208.7" r="4.65"/>
</g>
<g stroke-width="3.9" fill-opacity="0.5">
<line x1="1201.9" x2="1201.9" y1="187.3" y2="211.9"/>
<line x1="1201.9" x2="1201.9" y1="250" y2="295.8"/>
<rect x="1196.2" y="211.9" width="11.3" height="38.1" stroke-width="4.1"/>
<line x1="1196.2" x2="1207.6" y1="223.4" y2="223.4" stroke-width="7.6"/>
</g>
<g fill-opacity="0.5" stroke-opacity="0.85" stroke-width="1.3">
<circle cx="1201.9" cy="309" r="3.7"/>
<circle cx="1201.9" cy="321.2" r="3.7"/>
<circle cx="1201.9" cy="492.2" r="3.7"/>
<circle cx="1201.9" cy="492.6" r="3.7"/>
</g>
<path d="M1224.5 527.2L1224.5 152.4C1224.6 153.6 1225 157.1 1225.3 159.5C1225.6 161.9 1225.9 164.3 1226.5 166.7C1227.1 169.1 1227.7 171.5 1228.9 173.9C1230.2 176.3 1231.8 178.8 1234 181.2C1236.2 183.6 1239 186 1242 188.4C1245 190.8 1248.8 193.3 1252.1 195.7C1255.3 198.1 1258.8 200.5 1261.5 202.9C1264.2 205.3 1266.6 207.9 1268 210.1C1269.4 212.3 1270 214 1270 215.9C1270 217.8 1269.5 219.8 1268 221.7C1266.5 223.6 1263.8 225.3 1260.8 227.5C1257.8 229.7 1252.8 232.5 1249.9 234.7C1247 236.9 1245 238.8 1243.4 240.5C1241.8 242.2 1241.2 243.4 1240.5 245C1239.8 246.6 1239.5 248.1 1239.2 250C1238.9 251.9 1239 254.1 1238.6 256.6C1238.2 259.1 1237.2 262 1236.6 265C1236 268 1235.4 271.9 1235 274.7C1234.6 277.5 1234.6 279.6 1234.4 282C1234.2 284.4 1234.2 286.8 1234.1 289.2C1234 291.6 1233.9 294.1 1233.6 296.5C1233.3 298.9 1233 301.3 1232.5 303.7C1232 306.1 1231.3 308.6 1230.7 311C1230.1 313.4 1229.3 315.8 1228.8 318.1C1228.2 320.4 1227.8 322.6 1227.4 325C1227 327.4 1226.7 329.3 1226.5 332.6C1226.3 335.9 1226.3 333.8 1226.2 345C1226.1 356.2 1226.1 380.8 1226 400C1225.9 419.2 1225.7 447 1225.8 460C1225.9 473 1226.3 473.7 1226.6 478C1226.9 482.3 1227.4 483.5 1227.7 486C1228 488.5 1228.2 490.7 1228.2 493C1228.2 495.3 1228 497.7 1227.7 500C1227.4 502.3 1226.9 504.8 1226.6 507C1226.2 509.2 1225.9 510.8 1225.6 513C1225.3 515.2 1225.1 517.6 1224.9 520C1224.7 522.4 1224.6 526 1224.5 527.2Z" fill-opacity="0.5" stroke-width="3.9" stroke-linejoin="round"/>
</g>
<rect x="557.2" y="551.6" width="4.4" height="8.2" rx="2" fill="#000"/>
<path d="M158.7 98.8V94.9H400V98.8" fill="none" stroke="#000" stroke-width="4.7" stroke-linejoin="round" stroke-linecap="round"/>
<text transform="translate(280.25,86.25) scale(1,1)" font-size="24" text-anchor="middle" fill="#000" stroke="#000" stroke-width="0.3" letter-spacing="1.85">***</text>
<path d="M279.5 128.7V124.8H400V128.7" fill="none" stroke="#000" stroke-width="4.7" stroke-linejoin="round" stroke-linecap="round"/>
<text transform="translate(340.65,116.15) scale(1,1)" font-size="24" text-anchor="middle" fill="#000" stroke="#000" stroke-width="0.3" letter-spacing="1.85">***</text>
<path d="M960.6 117.8V113.9H1081V117.8" fill="none" stroke="#000" stroke-width="4.7" stroke-linejoin="round" stroke-linecap="round"/>
<text transform="translate(1021.7,105.25) scale(1,1)" font-size="24" text-anchor="middle" fill="#000" stroke="#000" stroke-width="0.3" letter-spacing="1.85">***</text>
<path d="M1081 98.8V94.9H1202V98.8" fill="none" stroke="#000" stroke-width="4.7" stroke-linejoin="round" stroke-linecap="round"/>
<text transform="translate(1142.4,86.25) scale(1,1)" font-size="24" text-anchor="middle" fill="#000" stroke="#000" stroke-width="0.3" letter-spacing="1.85">***</text>
<rect x="87.1" y="50" width="383.9" height="602.5" fill="none" stroke="#000" stroke-width="2.2"/>
<rect x="87.1" y="3.9" width="383.9" height="44.8" fill="#e5e5e5" stroke="#000" stroke-width="2.2"/>
<rect x="488.1" y="50" width="383.9" height="602.5" fill="none" stroke="#000" stroke-width="2.2"/>
<rect x="488.1" y="3.9" width="383.9" height="44.8" fill="#e5e5e5" stroke="#000" stroke-width="2.2"/>
<rect x="889" y="50" width="384.1" height="602.5" fill="none" stroke="#000" stroke-width="2.2"/>
<rect x="889" y="3.9" width="384.1" height="44.8" fill="#e5e5e5" stroke="#000" stroke-width="2.2"/>
<text transform="translate(279.05,32.5) scale(1,1.04)" font-size="27.8" text-anchor="middle" fill="#000" stroke="#000" stroke-width="0.3">Neg</text>
<text transform="translate(680.05,35.3) scale(1,1.04)" font-size="27.8" text-anchor="middle" fill="#000" stroke="#000" stroke-width="0.3">Neu</text>
<text transform="translate(1081.05,35.3) scale(1,1.04)" font-size="27.8" text-anchor="middle" fill="#000" stroke="#000" stroke-width="0.3">Pos</text>
<line x1="78.7" x2="86.1" y1="553" y2="553" stroke="#c4c4c4" stroke-width="1.5"/>
<text transform="translate(71.6,561.9) scale(1,1.04)" font-size="25" text-anchor="end" fill="#111" stroke="#111" stroke-width="0.25">0.0</text>
<line x1="78.7" x2="86.1" y1="479.8" y2="479.8" stroke="#c4c4c4" stroke-width="1.5"/>
<text transform="translate(71.6,488.7) scale(1,1.04)" font-size="25" text-anchor="end" fill="#111" stroke="#111" stroke-width="0.25">0.2</text>
<line x1="78.7" x2="86.1" y1="406.6" y2="406.6" stroke="#c4c4c4" stroke-width="1.5"/>
<text transform="translate(71.6,415.5) scale(1,1.04)" font-size="25" text-anchor="end" fill="#111" stroke="#111" stroke-width="0.25">0.4</text>
<line x1="78.7" x2="86.1" y1="333.4" y2="333.4" stroke="#c4c4c4" stroke-width="1.5"/>
<text transform="translate(71.6,342.3) scale(1,1.04)" font-size="25" text-anchor="end" fill="#111" stroke="#111" stroke-width="0.25">0.6</text>
<line x1="78.7" x2="86.1" y1="260.2" y2="260.2" stroke="#c4c4c4" stroke-width="1.5"/>
<text transform="translate(71.6,269.1) scale(1,1.04)" font-size="25" text-anchor="end" fill="#111" stroke="#111" stroke-width="0.25">0.8</text>
<line x1="78.7" x2="86.1" y1="187" y2="187" stroke="#c4c4c4" stroke-width="1.5"/>
<text transform="translate(71.6,195.9) scale(1,1.04)" font-size="25" text-anchor="end" fill="#111" stroke="#111" stroke-width="0.25">1.0</text>
<text transform="translate(23.2,352) rotate(-90) scale(1,1.02)" font-size="29.5" text-anchor="middle" fill="#000" stroke="#000" stroke-width="0.3">ACC</text>
<line x1="158.4" x2="158.4" y1="654" y2="661.5" stroke="#c4c4c4" stroke-width="1.5"/>
<text transform="translate(158.4,688.8) scale(1,1.02)" font-size="29.5" text-anchor="middle" fill="#111" stroke="#111" stroke-width="0.3">G</text>
<line x1="279.1" x2="279.1" y1="654" y2="661.5" stroke="#c4c4c4" stroke-width="1.5"/>
<text transform="translate(279.1,688.8) scale(1,1.02)" font-size="29.5" text-anchor="middle" fill="#111" stroke="#111" stroke-width="0.3">M</text>
<line x1="399.8" x2="399.8" y1="654" y2="661.5" stroke="#c4c4c4" stroke-width="1.5"/>
<text transform="translate(399.8,688.8) scale(1,1.02)" font-size="29.5" text-anchor="middle" fill="#111" stroke="#111" stroke-width="0.3">O</text>
<line x1="559.4" x2="559.4" y1="654" y2="661.5" stroke="#c4c4c4" stroke-width="1.5"/>
<text transform="translate(559.4,688.8) scale(1,1.02)" font-size="29.5" text-anchor="middle" fill="#111" stroke="#111" stroke-width="0.3">G</text>
<line x1="680" x2="680" y1="654" y2="661.5" stroke="#c4c4c4" stroke-width="1.5"/>
<text transform="translate(680,688.8) scale(1,1.02)" font-size="29.5" text-anchor="middle" fill="#111" stroke="#111" stroke-width="0.3">M</text>
<line x1="800.8" x2="800.8" y1="654" y2="661.5" stroke="#c4c4c4" stroke-width="1.5"/>
<text transform="translate(800.8,688.8) scale(1,1.02)" font-size="29.5" text-anchor="middle" fill="#111" stroke="#111" stroke-width="0.3">O</text>
<line x1="960.3" x2="960.3" y1="654" y2="661.5" stroke="#c4c4c4" stroke-width="1.5"/>
<text transform="translate(960.3,688.8) scale(1,1.02)" font-size="29.5" text-anchor="middle" fill="#111" stroke="#111" stroke-width="0.3">G</text>
<line x1="1081" x2="1081" y1="654" y2="661.5" stroke="#c4c4c4" stroke-width="1.5"/>
<text transform="translate(1081,688.8) scale(1,1.02)" font-size="29.5" text-anchor="middle" fill="#111" stroke="#111" stroke-width="0.3">M</text>
<line x1="1201.9" x2="1201.9" y1="654" y2="661.5" stroke="#c4c4c4" stroke-width="1.5"/>
<text transform="translate(1201.9,688.8) scale(1,1.02)" font-size="29.5" text-anchor="middle" fill="#111" stroke="#111" stroke-width="0.3">O</text>
<text transform="translate(1303.8,305.1) scale(1,1.02)" font-size="29.5" text-anchor="start" fill="#000" stroke="#000" stroke-width="0.3">Masking</text>
<g>
<rect x="1305" y="324" width="31" height="30.8" rx="2.6" fill="#02458F"/>
<g fill="#fff">
<rect x="1308.7" y="327.6" width="9.4" height="1.9" rx="0.8" fill-opacity="0.45"/>
<rect x="1321.9" y="327.6" width="9.9" height="1.9" rx="0.8" fill-opacity="0.45"/>
<rect x="1308.7" y="349.5" width="9.4" height="1.9" rx="0.8" fill-opacity="0.45"/>
<rect x="1321.9" y="349.5" width="9.9" height="1.9" rx="0.8" fill-opacity="0.45"/>
<rect x="1310.4" y="333.2" width="20.3" height="4.3" fill-opacity="0.3"/>
<rect x="1310.4" y="341.6" width="20.3" height="4.1" fill-opacity="0.3"/>
</g>
<circle cx="1320.6" cy="339.4" r="5.3" fill="#02458F" fill-opacity="0.25" stroke="#02458F" stroke-width="1.5" stroke-opacity="0.85"/>
</g>
<text transform="translate(1352.3,348.6) scale(1,1.04)" font-size="25" text-anchor="start" fill="#000" stroke="#000" stroke-width="0.3">G</text>
<g>
<rect x="1305" y="357.2" width="31" height="30.8" rx="2.6" fill="#F00000"/>
<g fill="#fff">
<rect x="1308.7" y="360.8" width="9.4" height="1.9" rx="0.8" fill-opacity="0.45"/>
<rect x="1321.9" y="360.8" width="9.9" height="1.9" rx="0.8" fill-opacity="0.45"/>
<rect x="1308.7" y="382.7" width="9.4" height="1.9" rx="0.8" fill-opacity="0.45"/>
<rect x="1321.9" y="382.7" width="9.9" height="1.9" rx="0.8" fill-opacity="0.45"/>
<rect x="1310.4" y="366.4" width="20.3" height="4.3" fill-opacity="0.3"/>
<rect x="1310.4" y="374.8" width="20.3" height="4.1" fill-opacity="0.3"/>
</g>
<circle cx="1320.6" cy="372.6" r="5.3" fill="#F00000" fill-opacity="0.25" stroke="#F00000" stroke-width="1.5" stroke-opacity="0.85"/>
</g>
<text transform="translate(1352.3,381.8) scale(1,1.04)" font-size="25" text-anchor="start" fill="#000" stroke="#000" stroke-width="0.3">M</text>
<g>
<rect x="1305" y="390.4" width="31" height="30.8" rx="2.6" fill="#3CB33B"/>
<g fill="#fff">
<rect x="1308.7" y="394" width="9.4" height="1.9" rx="0.8" fill-opacity="0.45"/>
<rect x="1321.9" y="394" width="9.9" height="1.9" rx="0.8" fill-opacity="0.45"/>
<rect x="1308.7" y="415.9" width="9.4" height="1.9" rx="0.8" fill-opacity="0.45"/>
<rect x="1321.9" y="415.9" width="9.9" height="1.9" rx="0.8" fill-opacity="0.45"/>
<rect x="1310.4" y="399.6" width="20.3" height="4.3" fill-opacity="0.3"/>
<rect x="1310.4" y="408" width="20.3" height="4.1" fill-opacity="0.3"/>
</g>
<circle cx="1320.6" cy="405.8" r="5.3" fill="#3CB33B" fill-opacity="0.25" stroke="#3CB33B" stroke-width="1.5" stroke-opacity="0.85"/>
</g>
<text transform="translate(1352.3,415) scale(1,1.04)" font-size="25" text-anchor="start" fill="#000" stroke="#000" stroke-width="0.3">O</text>
</svg>
</body></html>
